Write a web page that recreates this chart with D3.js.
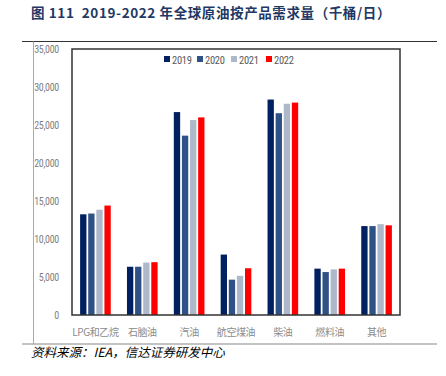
<!DOCTYPE html>
<html>
<head>
<meta charset="utf-8">
<script src="https://cdn.jsdelivr.net/npm/d3@7"></script>
<style>
  body { margin: 0; background: #fff; }
  svg { display: block; }
  text { white-space: pre; }
</style>
</head>
<body>
<div id="chart"></div>
<script>
// categories and series (thousand barrels / day)
const categories = ["LPG和乙烷", "石脑油", "汽油", "航空煤油", "柴油", "燃料油", "其他"];
const years = ["2019", "2020", "2021", "2022"];
const v2019 = [13250, 6350, 26700, 7950, 28350, 6100, 11700];
const v2020 = [13350, 6350, 23600, 4650, 26550, 5650, 11700];
const v2021 = [13850, 6900, 25650, 5150, 27800, 6000, 11950];
const v2022 = [14400, 6950, 26000, 6150, 27950, 6100, 11800];
const yTicks = [0, 5000, 10000, 15000, 20000, 25000, 30000, 35000];
const colors = ["#002060", "#2F5286", "#ADB9CA", "#FF0000"];

const series = [v2019, v2020, v2021, v2022];

const W = 446, H = 376;
const plot = {left: 72, right: 400, top: 49, bottom: 315};
const narrow = "'Liberation Sans Narrow', 'Roboto Condensed', 'Liberation Sans', sans-serif";

const svg = d3.select("#chart").append("svg")
  .attr("width", W).attr("height", H);

// title
svg.append("text")
  .attr("x", 31).attr("y", 18)
  .attr("font-family", "'Noto Sans CJK SC', sans-serif")
  .attr("font-size", 13.5).attr("font-weight", "bold")
  .attr("letter-spacing", 0.6)
  .attr("fill", "#1F3864")
  .text("图 111  2019-2022 年全球原油按产品需求量（千桶/日）");

// frame lines
svg.append("line").attr("x1", 22).attr("x2", 437).attr("y1", 41.5).attr("y2", 41.5)
  .attr("stroke", "#333").attr("stroke-width", 1);
svg.append("line").attr("x1", 22).attr("x2", 437).attr("y1", 344).attr("y2", 344)
  .attr("stroke", "#888").attr("stroke-width", 1.2);
svg.append("line").attr("x1", 33.5).attr("x2", 33.5).attr("y1", 41.5).attr("y2", 344)
  .attr("stroke", "#aaa").attr("stroke-width", 1);

const x = d3.scaleBand().domain(categories).range([plot.left, plot.right]);
const x1 = d3.scaleBand().domain(years).range([0, x.bandwidth()]).paddingInner(0.22).paddingOuter(1.0);
const y = d3.scaleLinear().domain([0, 35000]).range([plot.bottom, plot.top]);

// y axis labels
const yAxis = svg.append("g")
  .attr("transform", `translate(${plot.left - 10},0)`)
  .call(d3.axisLeft(y).tickValues(yTicks).tickSize(0).tickFormat(d3.format(",")));
yAxis.select(".domain").remove();
yAxis.selectAll("text")
  .attr("font-family", narrow)
  .attr("font-size", 10).attr("letter-spacing", -0.3).attr("fill", "#7f7f7f");

// bars
const groups = svg.append("g").selectAll("g")
  .data(categories)
  .join("g")
  .attr("transform", d => `translate(${x(d)},0)`);

groups.selectAll("rect")
  .data((c, i) => years.map((yr, j) => ({yr: yr, v: series[j][i], j: j})))
  .join("rect")
  .attr("x", d => x1(d.yr))
  .attr("width", x1.bandwidth())
  .attr("y", d => y(d.v))
  .attr("height", d => y(0) - y(d.v))
  .attr("fill", d => colors[d.j]);

// plot box
svg.append("rect")
  .attr("x", plot.left).attr("y", plot.top)
  .attr("width", plot.right - plot.left).attr("height", plot.bottom - plot.top)
  .attr("fill", "none").attr("stroke", "#333").attr("stroke-width", 1.5);

// x labels
svg.append("g").selectAll("text")
  .data(categories)
  .join("text")
  .attr("x", d => x(d) + x.bandwidth() / 2)
  .attr("y", 336)
  .attr("text-anchor", "middle")
  .attr("font-family", "'Noto Sans CJK SC', sans-serif")
  .attr("font-size", 10).attr("letter-spacing", -0.4).attr("fill", "#8c8c8c")
  .text(d => d);

// legend
const legX = [164, 197, 231, 266];
const leg = svg.append("g").selectAll("g")
  .data(years)
  .join("g")
  .attr("transform", (d, i) => `translate(${legX[i]},60)`);
leg.append("rect").attr("x", 0).attr("y", -4).attr("width", 6).attr("height", 6)
  .attr("fill", (d, i) => colors[i]);
leg.append("text").attr("x", 8).attr("y", 3.5)
  .attr("font-family", narrow)
  .attr("font-size", 10.5).attr("letter-spacing", -0.3).attr("fill", "#595959")
  .text(d => d);

// source
svg.append("text")
  .attr("x", 31).attr("y", 357)
  .attr("font-family", "'Noto Sans CJK SC', sans-serif")
  .attr("font-size", 12.5).attr("font-style", "italic")
  .attr("fill", "#000")
  .text("资料来源：IEA，信达证券研发中心");
</script>
</body>
</html>
